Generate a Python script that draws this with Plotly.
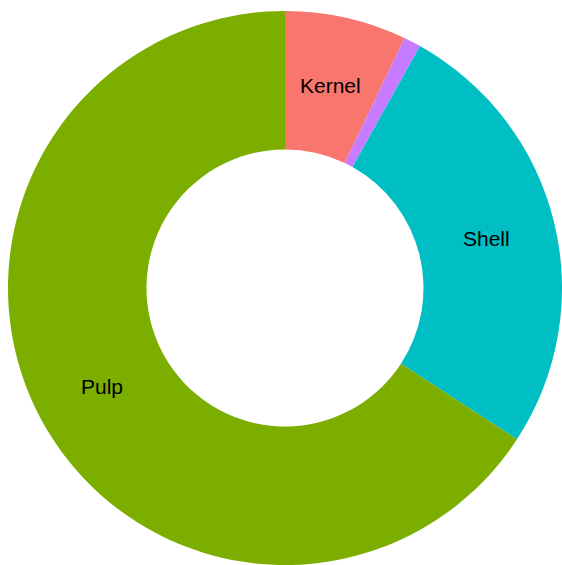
import math
import plotly.graph_objects as go

# Data (percent of whole)
categories = ["Kernel", "Other", "Shell", "Pulp"]
shares = [7.1, 1.0, 26.1, 65.8]
slice_text = ["Kernel", "", "Shell", "Pulp"]
colors = ["#F8766D", "#C77CFF", "#00BFC4", "#7CAE00"]

W, H = 562, 565
HOLE = 0.5
dom_x = [8 / W, 1.0]
dom_y = [0.0, 1 - 11 / H]

fig = go.Figure(
    go.Pie(
        labels=categories,
        values=shares,
        textinfo="none",
        hole=HOLE,
        sort=False,
        direction="clockwise",
        rotation=0,
        marker=dict(colors=colors, line=dict(width=0)),
        domain=dict(x=dom_x, y=dom_y),
        showlegend=False,
    )
)

# Place slice labels at the middle of the ring, at each slice's mid angle
cx_px = (dom_x[0] + dom_x[1]) / 2 * W
cy_px = (1 - (dom_y[0] + dom_y[1]) / 2) * H
r_out = min((dom_x[1] - dom_x[0]) * W, (dom_y[1] - dom_y[0]) * H) / 2
r_mid = r_out * (1 + HOLE) / 2
total = sum(shares)
cum = 0.0
for txt, v in zip(slice_text, shares):
    mid = (cum + v / 2) / total * 2 * math.pi
    cum += v
    if not txt:
        continue
    px = cx_px + r_mid * math.sin(mid)
    py = cy_px - r_mid * math.cos(mid)
    fig.add_annotation(
        x=px / W, y=1 - py / H, xref="paper", yref="paper",
        text=txt, showarrow=False, xanchor="center", yanchor="middle",
        font=dict(family="Liberation Sans, Arial, sans-serif", size=21, color="black"),
    )

fig.update_layout(
    width=W,
    height=H,
    margin=dict(l=0, r=0, t=0, b=0),
    paper_bgcolor="white",
    plot_bgcolor="white",
    showlegend=False,
)

fig.write_html("out.html")
